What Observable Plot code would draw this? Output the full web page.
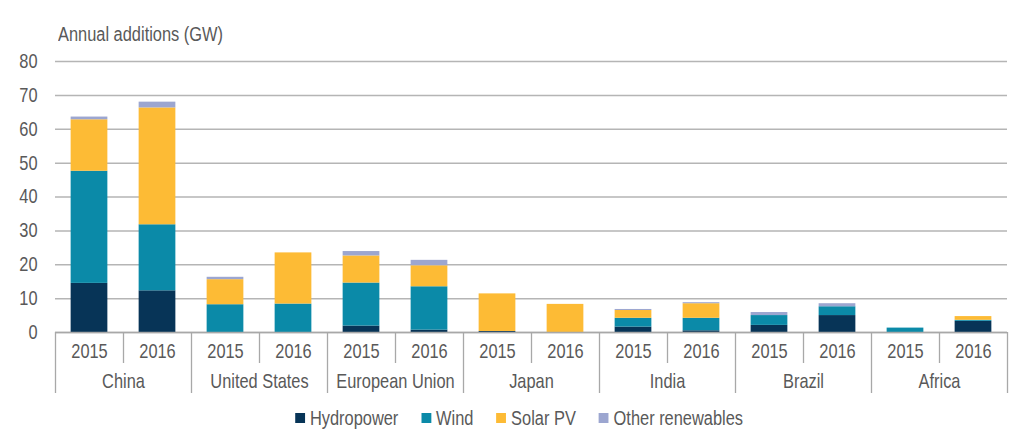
<!DOCTYPE html>
<html>
<head>
<meta charset="utf-8">
<script src="https://cdn.jsdelivr.net/npm/d3@7"></script>
<script src="https://cdn.jsdelivr.net/npm/@observablehq/plot@0.6"></script>
<style>
  html, body { margin: 0; padding: 0; background: #fff; }
  #wrap { position: relative; width: 1024px; height: 440px; font-family: "Liberation Sans", Arial, sans-serif; color: #595959; }
  #title { position: absolute; left: 58px; top: 22px; font-size: 20px; line-height: 24px; transform: scaleX(0.82); transform-origin: left center; white-space: nowrap; }
  #chart { position: absolute; left: 0; top: 48px; }
  #legend { position: absolute; left: 0; top: 406px; width: 1024px; height: 24px; display: flex; justify-content: center; padding-left: 12px; box-sizing: border-box; font-size: 20px; line-height: 24px; transform: scaleX(0.82); transform-origin: 524px center; }
  .item { display: flex; align-items: center; margin: 0 14px; white-space: nowrap; }
  .sw { width: 12px; height: 10px; margin-right: 6px; }
</style>
</head>
<body>
<div id="wrap">
  <div id="title">Annual additions (GW)</div>
  <div id="chart"></div>
  <div id="legend"></div>
</div>
<script>
const countries = ["China", "United States", "European Union", "Japan", "India", "Brazil", "Africa"];
const years = ["2015", "2016"];
const seriesNames = ["Hydropower", "Wind", "Solar PV", "Other renewables"];
const seriesColors = ["#073457", "#0b8aa8", "#fdbb35", "#9ca6d0"];
// values per bar, order: China 2015, China 2016, US 2015, US 2016, ...
const hydropower = [14.5, 12.3, 0, 0, 1.9, 0.7, 0.3, 0, 1.6, 0.5, 2.1, 5.0, 0, 3.3];
const wind       = [33.1, 19.5, 8.2, 8.4, 12.7, 12.8, 0, 0, 2.6, 3.7, 2.9, 2.6, 1.3, 0.3];
const solarPV    = [15.2, 34.5, 7.4, 15.1, 8.0, 6.2, 11.1, 8.3, 2.3, 4.3, 0, 0, 0, 1.1];
const otherRen   = [0.8, 1.7, 0.7, 0, 1.3, 1.6, 0, 0, 0.3, 0.3, 0.9, 0.9, 0, 0];
const yTicks = [0, 10, 20, 30, 40, 50, 60, 70, 80];

const seriesValues = [hydropower, wind, solarPV, otherRen];
const nSlots = countries.length * years.length;
const barPad = 0.23;

// build stacked rows
const rows = [];
for (let i = 0; i < nSlots; i++) {
  let acc = 0;
  seriesNames.forEach((s, k) => {
    const v = seriesValues[k][i];
    if (v > 0) rows.push({slot: i, series: s, y1: acc, y2: acc + v, x1: i + barPad, x2: i + 1 - barPad});
    acc += v;
  });
}
const yearLabels = d3.range(nSlots).map(i => ({pos: i + 0.5, label: years[i % years.length]}));
const countryLabels = countries.map((c, j) => ({pos: j * years.length + years.length / 2, label: c}));
const yearSeps = countries.map((c, j) => j * years.length + 1);
const countrySeps = d3.range(countries.length + 1).map(j => j * years.length);

const grey = "#595959";
const font = "'Liberation Sans', Arial, sans-serif";
const chart = Plot.plot({
  width: 1024,
  height: 360,
  marginLeft: 55,
  marginRight: 17,
  marginTop: 13,
  marginBottom: 76,
  style: {fontFamily: font, fontSize: "20px", color: grey, background: "transparent"},
  x: {type: "linear", domain: [0, nSlots], axis: null},
  y: {domain: [0, 80], axis: null},
  color: {domain: seriesNames, range: seriesColors},
  marks: [
    Plot.gridY(yTicks, {stroke: "#b5b5b5", strokeOpacity: 1, strokeWidth: 1.5}),
    Plot.axisY(yTicks, {tickSize: 0, tickPadding: 18, fontSize: 20, fill: grey, label: null}),
    Plot.rect(rows, {x1: "x1", x2: "x2", y1: "y1", y2: "y2", fill: "series"}),
    Plot.ruleY([0], {stroke: "#a8a8a8", strokeWidth: 1.5}),
    Plot.ruleX(yearSeps, {x: d => d, y1: 0, y2: -9.15, stroke: "#a8a8a8", strokeWidth: 1.3}),
    Plot.ruleX(countrySeps, {x: d => d, y1: 0, y2: -18, stroke: "#a8a8a8", strokeWidth: 1.3}),
    Plot.text(yearLabels, {x: "pos", text: "label", frameAnchor: "bottom", dy: 25, fontSize: 20, fill: grey}),
    Plot.text(countryLabels, {x: "pos", text: "label", frameAnchor: "bottom", dy: 55, fontSize: 20, fill: grey})
  ]
});
// narrow the glyphs horizontally around each text's own anchor point
chart.querySelectorAll("text").forEach(t => {
  const x = +t.getAttribute("x") || 0;
  const y = +t.getAttribute("y") || 0;
  const tr = t.getAttribute("transform") || "";
  t.setAttribute("transform", `${tr} translate(${x},${y}) scale(0.82,1) translate(${-x},${-y})`);
});
document.getElementById("chart").appendChild(chart);

const legend = document.getElementById("legend");
seriesNames.forEach((s, k) => {
  const item = document.createElement("div");
  item.className = "item";
  const sw = document.createElement("span");
  sw.className = "sw";
  sw.style.background = seriesColors[k];
  const t = document.createElement("span");
  t.textContent = s;
  item.appendChild(sw);
  item.appendChild(t);
  legend.appendChild(item);
});
</script>
</body>
</html>
